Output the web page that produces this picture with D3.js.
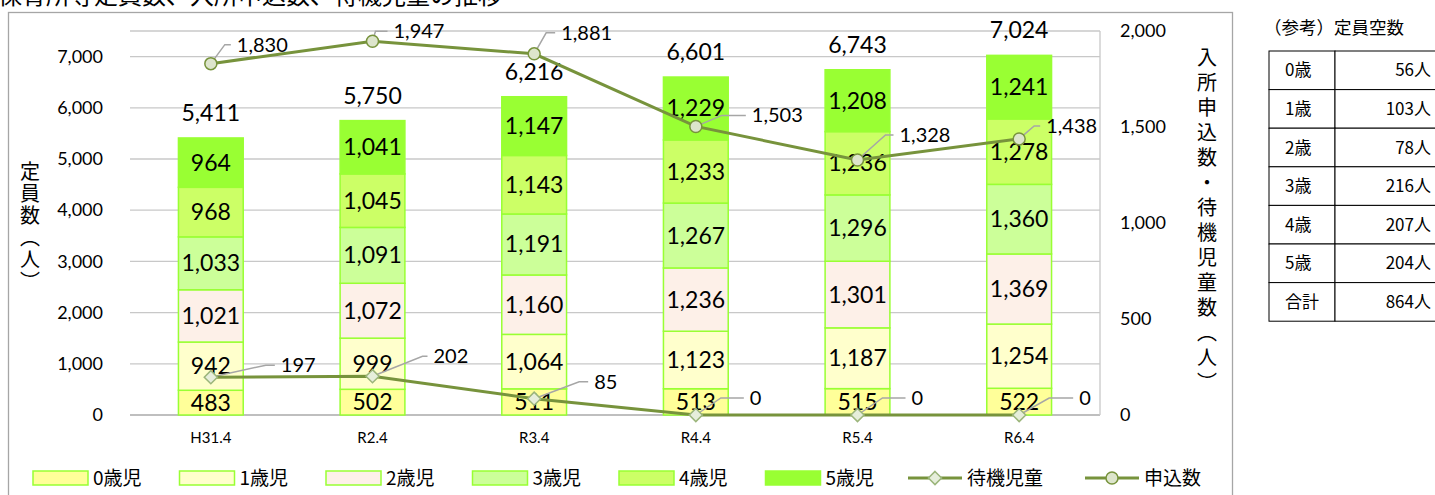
<!DOCTYPE html>
<head>
<meta charset="utf-8">
<script src="https://d3js.org/d3.v7.min.js"></script>
<style>
  body { margin: 0; background: #fff; }
  text { font-family: Lato, "Noto Sans CJK JP", sans-serif; fill: #000; }
  .jp { font-family: "Noto Sans CJK JP", sans-serif; }
  .vt { writing-mode: vertical-rl; }
</style>
</head>
<body>
<script>
// data
var years = ["H31.4", "R2.4", "R3.4", "R4.4", "R5.4", "R6.4"]
var ageKeys = ["0歳児", "1歳児", "2歳児", "3歳児", "4歳児", "5歳児"]
var age0 = [483, 502, 511, 513, 515, 522]
var age1 = [942, 999, 1064, 1123, 1187, 1254]
var age2 = [1021, 1072, 1160, 1236, 1301, 1369]
var age3 = [1033, 1091, 1191, 1267, 1296, 1360]
var age4 = [968, 1045, 1143, 1233, 1236, 1278]
var age5 = [964, 1041, 1147, 1229, 1208, 1241]
var waiting = [197, 202, 85, 0, 0, 0]
var applied = [1830, 1947, 1881, 1503, 1328, 1438]
var leftTicks = [0, 1000, 2000, 3000, 4000, 5000, 6000, 7000]
var rightTicks = [0, 500, 1000, 1500, 2000]
var tableRows = ["0歳", "1歳", "2歳", "3歳", "4歳", "5歳", "合計"]
var tableVals = ["56人", "103人", "78人", "216人", "207人", "204人", "864人"]

var ageColors = ["#ffff99", "#ffffcc", "#fdf0e8", "#ccff99", "#ccff66", "#99ff33"]
var lineColor = "#77933c"

var W = 1435, H = 495
var svg = d3.select("body").append("svg").attr("width", W).attr("height", H)

// cut-off title at very top
svg.append("text").attr("class", "jp").attr("x", -2).attr("y", 4)
  .attr("font-size", 24).text("保育所等定員数、入所申込数、待機児童の推移")

// chart frame
svg.append("rect").attr("x", 8.5).attr("y", 12.5).attr("width", 1224).attr("height", 500)
  .attr("fill", "none").attr("stroke", "#a6a6a6").attr("stroke-width", 1.3)

var x = d3.scaleBand().domain(years).range([130, 1100]).paddingInner(0.59).paddingOuter(0.295)
var yL = d3.scaleLinear().domain([0, 7500]).range([415, 31])
var yR = d3.scaleLinear().domain([0, 2000]).range([415, 31])

// gridlines
svg.append("g").selectAll("line").data(leftTicks.concat([7500])).join("line")
  .attr("x1", 130).attr("x2", 1100)
  .attr("y1", d => yL(d)).attr("y2", d => yL(d))
  .attr("stroke", d => d === 0 ? "#bfbfbf" : "#c8c8c8")
  .attr("stroke-width", d => d === 0 ? 2 : 1.3)
svg.append("line").attr("x1", 1100).attr("x2", 1100).attr("y1", 31).attr("y2", 415)
  .attr("stroke", "#c8c8c8").attr("stroke-width", 1.3)

// axes
var fmt = d3.format(",")
var gl = svg.append("g").attr("transform", "translate(130,0)")
  .call(d3.axisLeft(yL).tickValues(leftTicks).tickFormat(fmt).tickSize(0).tickPadding(27))
var gr = svg.append("g").attr("transform", "translate(1100,0)")
  .call(d3.axisRight(yR).tickValues(rightTicks).tickFormat(fmt).tickSize(0).tickPadding(20))
var gx = svg.append("g").attr("transform", "translate(0,415)")
  .call(d3.axisBottom(x).tickSize(0).tickPadding(17))
;[gl, gr, gx].forEach(g => {
  g.select(".domain").remove()
  g.selectAll("text").attr("font-family", "Lato, sans-serif").attr("fill", "#000")
})
gl.selectAll("text").attr("font-size", 18)
gr.selectAll("text").attr("font-size", 18)
gx.selectAll("text").attr("font-size", 15).attr("fill", "#404040")

// stacked bars
var rows = years.map((yr, i) => ({
  year: yr, "0歳児": age0[i], "1歳児": age1[i], "2歳児": age2[i],
  "3歳児": age3[i], "4歳児": age4[i], "5歳児": age5[i]
}))
var stacked = d3.stack().keys(ageKeys)(rows)
var layers = svg.append("g").selectAll("g").data(stacked).join("g")
  .attr("fill", (d, i) => ageColors[i])
layers.selectAll("rect").data(d => d).join("rect")
  .attr("x", d => x(d.data.year) + 0.75)
  .attr("width", x.bandwidth() - 1.5)
  .attr("y", d => yL(d[1]))
  .attr("height", d => yL(d[0]) - yL(d[1]))
  .attr("stroke", "#99ff33").attr("stroke-width", 1.5)
layers.selectAll("text").data(d => d).join("text")
  .attr("x", d => x(d.data.year) + x.bandwidth() / 2)
  .attr("y", d => (yL(d[0]) + yL(d[1])) / 2 + 8)
  .attr("text-anchor", "middle").attr("font-size", 23)
  .text(d => fmt(d[1] - d[0]))

// totals
var totals = rows.map(r => d3.sum(ageKeys, k => r[k]))
svg.append("g").selectAll("text").data(years).join("text")
  .attr("x", d => x(d) + x.bandwidth() / 2)
  .attr("y", (d, i) => yL(totals[i]) - 17)
  .attr("text-anchor", "middle").attr("font-size", 23)
  .text((d, i) => fmt(totals[i]))

var cx = d => x(d) + x.bandwidth() / 2

// label placement for line data labels: [elbow dx, elbow dy, label dx]
var appLab = [[14, -19, 26], [3, -10, 21], [12, -21, 27], [26, -11, 56], [28, -25, 42], [15, -13, 27]]
var waitLab = [[55, -12, 70], [50, -20, 61], [45, -17, 60], [25, -17, 54], [25, -17, 54], [30, -17, 60]]

function drawLine(vals, marker, labs) {
  var line = d3.line().x((d, i) => cx(years[i])).y(d => yR(d))
  var g = svg.append("g")
  // leader lines
  g.selectAll("path.lead").data(vals).join("path").attr("class", "lead")
    .attr("d", (d, i) => {
      var px = cx(years[i]), py = yR(d), l = labs[i]
      return "M" + px + "," + py + "L" + (px + l[0]) + "," + (py + l[1]) + "L" + (px + l[2] - 6) + "," + (py + l[1])
    })
    .attr("fill", "none").attr("stroke", "#a6a6a6").attr("stroke-width", 1.5)
  g.append("path").datum(vals).attr("d", line)
    .attr("fill", "none").attr("stroke", lineColor).attr("stroke-width", 3)
  if (marker === "circle") {
    g.selectAll("circle").data(vals).join("circle")
      .attr("cx", (d, i) => cx(years[i])).attr("cy", d => yR(d)).attr("r", 6)
      .attr("fill", "#dde5cc").attr("stroke", lineColor).attr("stroke-width", 1.5)
  } else {
    g.selectAll("path.mk").data(vals).join("path").attr("class", "mk")
      .attr("d", d3.symbol(d3.symbolDiamond2, 110))
      .attr("transform", (d, i) => "translate(" + cx(years[i]) + "," + yR(d) + ")")
      .attr("fill", "#e6eedb").attr("stroke", "#9bb57a").attr("stroke-width", 1.5)
  }
  g.selectAll("text").data(vals).join("text")
    .attr("x", (d, i) => cx(years[i]) + labs[i][2])
    .attr("y", (d, i) => yR(d) + labs[i][1] + 7)
    .attr("font-size", 20).text(d => fmt(d))
}
drawLine(waiting, "diamond", waitLab)
drawLine(applied, "circle", appLab)

// axis titles (vertical)
svg.append("text").attr("class", "jp vt").attr("x", 30).attr("y", 161)
  .attr("font-size", 20).attr("letter-spacing", 2).text("定員数（人）")
svg.append("text").attr("class", "jp vt").attr("x", 1207).attr("y", 47)
  .attr("font-size", 20).attr("letter-spacing", 5).text("入所申込数・待機児童数（人）")

// legend
var legend = svg.append("g")
ageKeys.forEach((k, i) => {
  var lx = 33 + i * 146.5
  legend.append("rect").attr("x", lx).attr("y", 471).attr("width", 55).attr("height", 14)
    .attr("fill", ageColors[i]).attr("stroke", "#99ff33").attr("stroke-width", 1.5)
  legend.append("text").attr("class", "jp").attr("x", lx + 60).attr("y", 485)
    .attr("font-size", 19).text(k)
})
var lineLegend = [["待機児童", "diamond", 908], ["申込数", "circle", 1085]]
lineLegend.forEach(l => {
  legend.append("line").attr("x1", l[2]).attr("x2", l[2] + 54).attr("y1", 478).attr("y2", 478)
    .attr("stroke", lineColor).attr("stroke-width", 3)
  if (l[1] === "circle") {
    legend.append("circle").attr("cx", l[2] + 27).attr("cy", 478).attr("r", 6)
      .attr("fill", "#dde5cc").attr("stroke", lineColor).attr("stroke-width", 1.5)
  } else {
    legend.append("path").attr("d", d3.symbol(d3.symbolDiamond2, 110))
      .attr("transform", "translate(" + (l[2] + 27) + ",478)")
      .attr("fill", "#e6eedb").attr("stroke", "#9bb57a").attr("stroke-width", 1.5)
  }
  legend.append("text").attr("class", "jp").attr("x", l[2] + 59).attr("y", 485)
    .attr("font-size", 19).text(l[0])
})

// reference table
svg.append("text").attr("class", "jp").attr("x", 1264).attr("y", 34)
  .attr("font-size", 17.5).text("（参考）定員空数")
var tTop = 51, rowH = 38.6
var tg = svg.append("g")
tableRows.forEach((r, i) => {
  var ty = tTop + i * rowH
  tg.append("rect").attr("x", 1269).attr("y", ty).attr("width", 66).attr("height", rowH)
    .attr("fill", "#fff").attr("stroke", "#000").attr("stroke-width", 1)
  tg.append("rect").attr("x", 1335).attr("y", ty).attr("width", 110).attr("height", rowH)
    .attr("fill", "#fff").attr("stroke", "#000").attr("stroke-width", 1)
  tg.append("text").attr("class", "jp").attr("x", 1285).attr("y", ty + rowH / 2 + 6)
    .attr("font-size", 17).text(r)
  tg.append("text").attr("class", "jp").attr("x", 1431).attr("y", ty + rowH / 2 + 6)
    .attr("text-anchor", "end").attr("font-size", 17).text(tableVals[i])
})
</script>
</body>
